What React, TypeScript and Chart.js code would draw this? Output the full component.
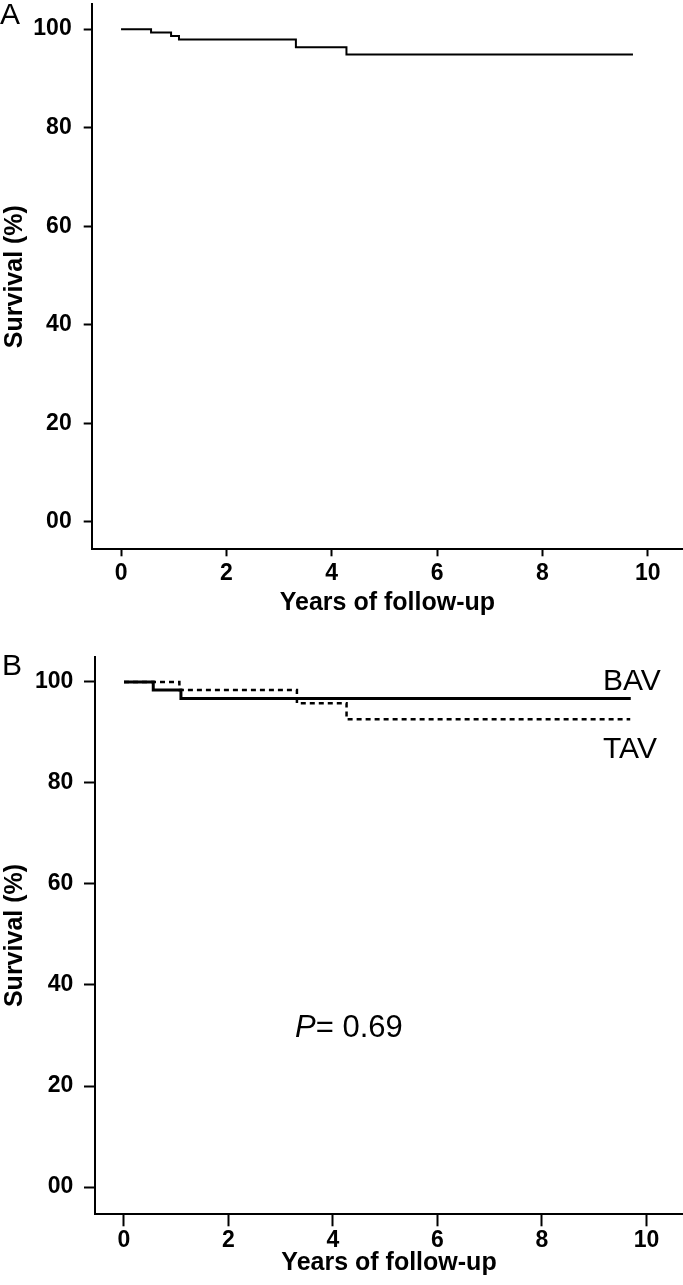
import React, { useEffect, useRef } from 'react';
import { Chart, registerables } from 'chart.js';

Chart.register(...registerables);

// ---- data ----
const xTickValues = [0, 2, 4, 6, 8, 10];
const xTickLabels = ['0', '2', '4', '6', '8', '10'];
const yTickValues = [0, 20, 40, 60, 80, 100];
const yTickLabels = ['00', '20', '40', '60', '80', '100'];

// Panel A: all patients
const allTimes = [0, 0.57, 0.95, 1.1, 3.32, 4.28, 9.72];
const allSurvival = [100, 99.3, 98.6, 97.9, 96.35, 94.85, 94.85];

// Panel B: BAV vs TAV
const bavTimes = [0, 0.56, 1.09, 9.7];
const bavSurvival = [100, 98.4, 96.7, 96.7];
const tavTimes = [0, 1.06, 3.31, 4.26, 9.69];
const tavSurvival = [100, 98.4, 95.8, 92.6, 92.6];

const xTitle = 'Years of follow-up';
const yTitle = 'Survival (%)';
const panelALabel = 'A';
const panelBLabel = 'B';
const bavLabel = 'BAV';
const tavLabel = 'TAV';
const pItalic = 'P';
const pValue = '= 0.69';

const FONT = "'Liberation Sans', Arial, Helvetica, sans-serif";

type Panel = {
  top: number; height: number; padTop: number;
  yAxisWidth: number; xAxisHeight: number;
  xMin: number; xMax: number; yMin: number; yMax: number;
  yTickLen: number; yTickPad: number; xTickLen: number; xTickPad: number;
  xTitlePad: number;
};

const panelA: Panel = {
  top: 0, height: 640, padTop: 4,
  yAxisWidth: 91.7, xAxisHeight: 90.7,
  xMin: -0.557, xMax: 10.67, yMin: -5.54, yMax: 105.1,
  yTickLen: 8, yTickPad: 12, xTickLen: 7, xTickPad: 4,
  xTitlePad: 22,
};

const panelB: Panel = {
  top: 640, height: 645, padTop: 16.7,
  yAxisWidth: 95, xAxisHeight: 70.7,
  xMin: -0.555, xMax: 10.7, yMin: -5.4, yMax: 105.0,
  yTickLen: 11, yTickPad: 10.7, xTickLen: 12, xTickPad: 1,
  xTitlePad: 7,
};

type TextItem = { parts: { text: string; italic?: boolean; bold?: boolean }[]; x: number; y: number; size: number };

function textPlugin(items: TextItem[]) {
  return {
    id: 'texts',
    afterDraw(chart: any) {
      const ctx = chart.ctx as CanvasRenderingContext2D;
      ctx.save();
      ctx.fillStyle = '#000';
      ctx.textBaseline = 'alphabetic';
      ctx.textAlign = 'left';
      for (const it of items) {
        let x = it.x;
        for (const p of it.parts) {
          ctx.font = `${p.italic ? 'italic ' : ''}${p.bold ? 'bold ' : ''}${it.size}px ${FONT}`;
          ctx.fillText(p.text, x, it.y);
          x += ctx.measureText(p.text).width;
        }
      }
      ctx.restore();
    },
  };
}

function makeOptions(p: Panel): any {
  const tickFont = { family: FONT, size: 23, weight: 'bold' as const };
  const titleFont = { family: FONT, size: 25, weight: 'bold' as const };
  return {
    responsive: false,
    animation: false,
    events: [],
    layout: { padding: { top: p.padTop, left: 0, right: 0, bottom: 0 } },
    plugins: { legend: { display: false }, tooltip: { enabled: false } },
    elements: { point: { radius: 0 }, line: { tension: 0 } },
    scales: {
      x: {
        type: 'linear',
        min: p.xMin,
        max: p.xMax,
        afterBuildTicks: (s: any) => { s.ticks = xTickValues.map((v) => ({ value: v })); },
        afterFit: (s: any) => { s.height = p.xAxisHeight; s.paddingLeft = 0; s.paddingRight = 0; },
        ticks: {
          callback: (_v: any, i: number) => xTickLabels[i],
          font: tickFont, color: '#000', padding: p.xTickPad, maxRotation: 0, autoSkip: false,
        },
        grid: { drawOnChartArea: false, drawTicks: true, tickLength: p.xTickLen, tickColor: '#000', tickWidth: 2 },
        border: { display: true, color: '#000', width: 2 },
        title: { display: true, text: xTitle, font: titleFont, color: '#000', padding: { top: 0, bottom: p.xTitlePad } },
      },
      y: {
        type: 'linear',
        min: p.yMin,
        max: p.yMax,
        afterBuildTicks: (s: any) => { s.ticks = yTickValues.map((v) => ({ value: v })); },
        afterFit: (s: any) => { s.width = p.yAxisWidth; s.paddingTop = 0; s.paddingBottom = 0; },
        ticks: {
          callback: (_v: any, i: number) => yTickLabels[i],
          font: tickFont, color: '#000', padding: p.yTickPad, autoSkip: false,
        },
        grid: { drawOnChartArea: false, drawTicks: true, tickLength: p.yTickLen, tickColor: '#000', tickWidth: 2 },
        border: { display: true, color: '#000', width: 2 },
        title: { display: true, text: yTitle, font: titleFont, color: '#000', padding: { top: 0, bottom: 0 } },
      },
    },
  };
}

function toPoints(t: number[], s: number[]) {
  return t.map((x, i) => ({ x, y: s[i] }));
}

export default function App() {
  const refA = useRef<HTMLCanvasElement | null>(null);
  const refB = useRef<HTMLCanvasElement | null>(null);

  useEffect(() => {
    const chartA = new Chart(refA.current as HTMLCanvasElement, {
      type: 'line',
      data: {
        datasets: [
          {
            data: toPoints(allTimes, allSurvival),
            borderColor: '#000', borderWidth: 2, stepped: 'before', pointRadius: 0, fill: false,
          } as any,
        ],
      },
      options: makeOptions(panelA),
      plugins: [textPlugin([{ parts: [{ text: panelALabel }], x: 0, y: 24, size: 30 }])],
    });

    const chartB = new Chart(refB.current as HTMLCanvasElement, {
      type: 'line',
      data: {
        datasets: [
          {
            label: bavLabel,
            data: toPoints(bavTimes, bavSurvival),
            borderColor: '#000', borderWidth: 3, stepped: 'before', pointRadius: 0, fill: false,
          } as any,
          {
            label: tavLabel,
            data: toPoints(tavTimes, tavSurvival),
            borderColor: '#000', borderWidth: 2.5, borderDash: [5, 4], stepped: 'before', pointRadius: 0, fill: false,
          } as any,
        ],
      },
      options: makeOptions(panelB),
      plugins: [
        textPlugin([
          { parts: [{ text: panelBLabel }], x: 2, y: 35, size: 30 },
          { parts: [{ text: bavLabel }], x: 603, y: 50, size: 30 },
          { parts: [{ text: tavLabel }], x: 603, y: 118, size: 30 },
          { parts: [{ text: pItalic, italic: true }, { text: pValue }], x: 295, y: 397, size: 31 },
        ]),
      ],
    });

    return () => {
      chartA.destroy();
      chartB.destroy();
    };
  }, []);

  return (
    <div style={{ position: 'absolute', left: 0, top: 0, width: 683, height: 1285, background: '#fff', overflow: 'hidden' }}>
      <canvas ref={refA} width={683} height={panelA.height}
        style={{ position: 'absolute', left: 0, top: panelA.top, width: 683, height: panelA.height }} />
      <canvas ref={refB} width={683} height={panelB.height}
        style={{ position: 'absolute', left: 0, top: panelB.top, width: 683, height: panelB.height }} />
    </div>
  );
}
